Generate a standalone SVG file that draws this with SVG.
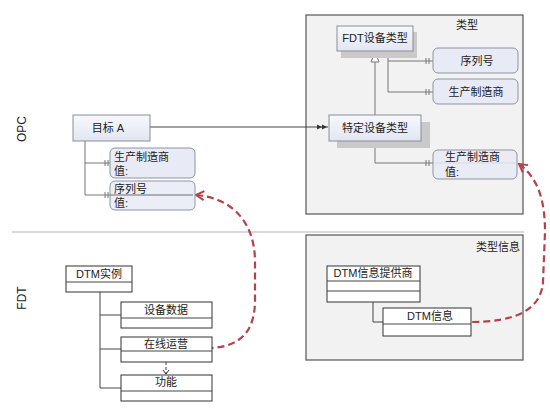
<svg xmlns="http://www.w3.org/2000/svg" width="550" height="409" viewBox="0 0 550 409">
<defs>
<linearGradient id="gb" x1="0" y1="0" x2="0" y2="1">
<stop offset="0" stop-color="#f7f8fc"/><stop offset="1" stop-color="#e2e6f2"/>
</linearGradient>
<marker id="dbl" markerWidth="12" markerHeight="6" refX="11" refY="3" orient="auto" markerUnits="userSpaceOnUse">
<path d="M0,0.5 L5,3 L0,5.5 Z M5,0.5 L10,3 L5,5.5 Z" fill="#333"/>
</marker>
<marker id="tri" markerWidth="12" markerHeight="10" refX="11" refY="5" orient="auto" markerUnits="userSpaceOnUse">
<path d="M1,1 L11,5 L1,9 Z" fill="#fff" stroke="#777" stroke-width="1"/>
</marker>
<marker id="redarr" markerWidth="12" markerHeight="12" refX="10" refY="6" orient="auto-start-reverse" markerUnits="userSpaceOnUse">
<path d="M2,1.5 L10,6 L2,10.5" fill="none" stroke="#b5424a" stroke-width="2"/>
</marker>
<marker id="open" markerWidth="8" markerHeight="8" refX="7" refY="4" orient="auto" markerUnits="userSpaceOnUse">
<path d="M3,1 L7,4 L3,7" fill="none" stroke="#333" stroke-width="1"/>
</marker>
</defs>
<style>
text{font-family:"Liberation Sans","Noto Sans CJK SC",sans-serif;font-size:11px;fill:#222}
.c{text-anchor:middle}
.container{fill:#f2f2f2;stroke:#555;stroke-width:1.2}
.cls{fill:url(#gb);stroke:#8a8d99;stroke-width:1}
.shadow{fill:#c9c9c9}
.attr{fill:#e8ebf6;stroke:#8e93a3;stroke-width:1}
.fdt{fill:#fff;stroke:#333;stroke-width:1}
.ln{fill:none;stroke:#777;stroke-width:1}
.lnd{fill:none;stroke:#444;stroke-width:1}
.red{fill:none;stroke:#b5424a;stroke-width:2.2;stroke-dasharray:7 4}
</style>

<line x1="12" y1="232" x2="524" y2="232" stroke="#ccc" stroke-width="1.5"/>
<text transform="translate(26,129) rotate(-90)" class="c" style="font-size:12px">OPC</text>
<text transform="translate(26,298) rotate(-90)" class="c" style="font-size:12px">FDT</text>

<g id="type-container">
<rect class="container" x="306" y="15" width="217" height="199"/>
<text x="467" y="29" class="c">类型</text>
</g>
<g id="typeinfo-container">
<rect class="container" x="306" y="235" width="217" height="125"/>
<text x="498" y="251" class="c">类型信息</text>
</g>

<g id="connectors">
<path class="ln" d="M388,51 V92 H433 M388,61 H433"/>
<path class="ln" d="M426,58 V64 M429,58 V64 M426,89 V95 M429,89 V95"/>
<path class="ln" d="M375,115 V52" marker-end="url(#tri)"/>
<path class="ln" d="M375,141 V163 H516"/>
<path class="ln" d="M426,160 V166 M429,160 V166"/>
<path class="lnd" d="M150,127 H328" marker-end="url(#dbl)"/>
<path class="ln" d="M85,141 V195 H193 M85,163 H110"/>
<path class="ln" d="M105,160 V166 M108,160 V166 M105,192 V198 M108,192 V198"/>
<path class="lnd" d="M100,292 V388 H121 M100,315 H121 M100,349 H121"/>
<path class="lnd" d="M166,362 V374" stroke-dasharray="3 2" marker-end="url(#open)"/>
<path class="lnd" d="M373,302 V322 H383"/>
<path class="red" d="M196,195 C232,198 255,222 255,262 L255,300 C255,332 240,346 212,348" marker-start="url(#redarr)"/>
<path class="red" d="M519,164 C538,178 545,200 545,232 L543,282 C541,310 515,322 471,322" marker-start="url(#redarr)"/>
</g>

<g id="fdt-device-type">
<rect class="shadow" x="341" y="32" width="76" height="26"/>
<rect class="cls" x="337" y="26" width="76" height="25"/>
<text x="375" y="42" class="c">FDT设备类型</text>
</g>
<g id="serial-no">
<rect class="attr" x="433" y="48" width="85" height="25" rx="5"/>
<text x="477" y="65" class="c">序列号</text>
</g>
<g id="manufacturer">
<rect class="attr" x="433" y="79" width="85" height="25" rx="5"/>
<text x="476" y="96" class="c">生产制造商</text>
</g>
<g id="specific-device-type">
<rect class="shadow" x="337" y="122" width="93" height="26"/>
<rect class="cls" x="329" y="115" width="92" height="26"/>
<text x="375" y="132" class="c">特定设备类型</text>
</g>
<g id="manufacturer-value">
<rect class="attr" x="433" y="150" width="84" height="29" rx="5" fill-opacity="0.85"/>
<text x="445" y="161">生产制造商</text>
<text x="445" y="176">值:</text>
</g>
<g id="target-a">
<rect class="cls" x="73" y="115" width="77" height="26"/>
<text x="108" y="132" class="c">目标 A</text>
</g>
<g id="a-manufacturer">
<rect class="attr" x="110" y="148" width="85" height="30" rx="5"/>
<text x="114" y="161">生产制造商</text>
<text x="114" y="175">值:</text>
</g>
<g id="a-serial">
<rect class="attr" x="110" y="181" width="85" height="29" rx="5" fill-opacity="0.85"/>
<text x="114" y="193">序列号</text>
<text x="114" y="207">值:</text>
</g>
<path class="ln" d="M110,195 H193"/>

<g id="dtm-instance">
<rect class="fdt" x="66" y="266" width="66" height="26"/>
<line class="lnd" x1="66" y1="282" x2="132" y2="282"/>
<text x="99" y="278" class="c">DTM实例</text>
</g>
<g id="device-data">
<rect class="fdt" x="121" y="302" width="91" height="26"/>
<line class="lnd" x1="121" y1="318" x2="212" y2="318"/>
<text x="166" y="314" class="c">设备数据</text>
</g>
<g id="online-operation">
<rect class="fdt" x="121" y="337" width="91" height="25"/>
<line class="lnd" x1="121" y1="351" x2="212" y2="351"/>
<text x="166" y="348" class="c">在线运营</text>
</g>
<g id="function">
<rect class="fdt" x="121" y="375" width="91" height="26"/>
<line class="lnd" x1="121" y1="391" x2="212" y2="391"/>
<text x="166" y="386" class="c">功能</text>
</g>
<g id="dtm-info-provider">
<rect class="fdt" x="327" y="266" width="93" height="36"/>
<line class="lnd" x1="327" y1="281" x2="420" y2="281"/>
<line class="lnd" x1="327" y1="291" x2="420" y2="291"/>
<text x="373" y="277" class="c">DTM信息提供商</text>
</g>
<g id="dtm-info">
<rect class="fdt" x="383" y="308" width="88" height="28"/>
<line class="lnd" x1="383" y1="324" x2="471" y2="324"/>
<text x="430" y="320" class="c">DTM信息</text>
</g>
</svg>
